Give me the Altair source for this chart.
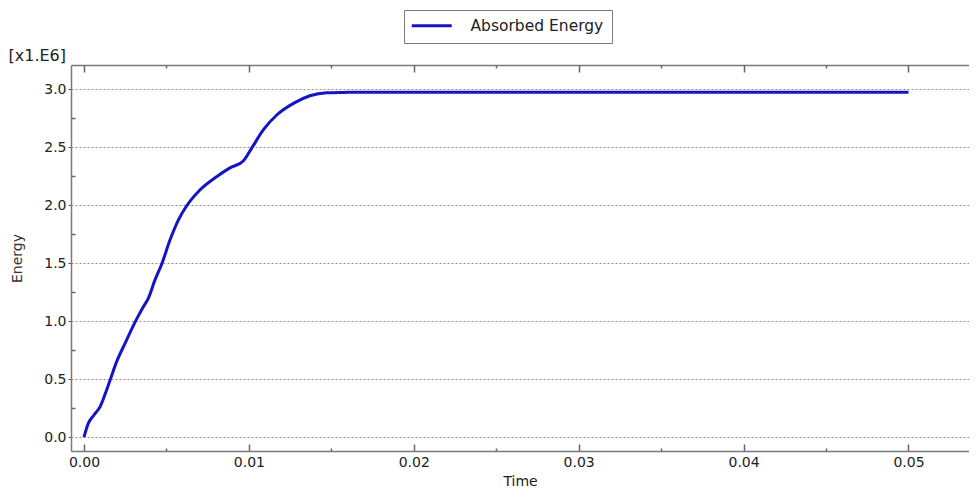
import altair as alt
import pandas as pd

# ---- data (time in s, energy in units of 1e6) ----
time = [0.0, 0.00026, 0.0006, 0.00097, 0.00128, 0.00158, 0.00198, 0.00249, 0.00309,
        0.0036, 0.0039, 0.0043, 0.00471, 0.00522, 0.00572, 0.00623, 0.00703, 0.00804,
        0.00885, 0.00966, 0.01017, 0.01087, 0.01169, 0.0127, 0.0137, 0.01472, 0.01572,
        0.0165, 0.02, 0.03, 0.04, 0.05]
energy = [0.0, 0.118, 0.19, 0.26, 0.37, 0.49, 0.65, 0.808, 0.989,
          1.123, 1.196, 1.353, 1.49, 1.70, 1.87, 1.994, 2.13, 2.244,
          2.32, 2.38, 2.49, 2.647, 2.776, 2.876, 2.942, 2.968, 2.971,
          2.972, 2.972, 2.972, 2.972, 2.972]
series_name = "Absorbed Energy"

x_major = [0.0, 0.01, 0.02, 0.03, 0.04, 0.05]
x_minor = [0.005, 0.015, 0.025, 0.035, 0.045]
y_major = [0.0, 0.5, 1.0, 1.5, 2.0, 2.5, 3.0]
y_minor = [0.25, 0.75, 1.25, 1.75, 2.25, 2.75]

df = pd.DataFrame({"Time": time, "Energy": energy, "Series": [series_name] * len(time)})

FONT = "DejaVu Sans"
BLUE = "#1414c4"
AXIS_GRAY = "#7a7a7a"
TEXT = "#222222"

XS = alt.Scale(domain=[-0.000788, 0.05367], nice=False, zero=False)
YS = alt.Scale(domain=[-0.12, 3.207], nice=False, zero=False)


def ghost(x_axis, y_axis):
    y = alt.Y("Energy:Q", scale=YS, axis=y_axis) if y_axis is not None else alt.Y("Energy:Q", scale=YS, axis=None)
    return alt.Chart(df).mark_line(opacity=0, strokeWidth=0).encode(
        x=alt.X("Time:Q", scale=XS, axis=x_axis), y=y)


main = alt.Chart(df).mark_line(strokeWidth=3, interpolate="monotone").encode(
    x=alt.X("Time:Q", scale=XS, axis=alt.Axis(
        orient="bottom", values=x_major, format=".2f", ticks=False, grid=False,
        domainColor=AXIS_GRAY, domainWidth=1.5, labelFontSize=14, labelColor=TEXT,
        labelPadding=4, labelFlush=False, title="Time", titleFontSize=14,
        titleFontWeight="normal", titleColor=TEXT, titlePadding=5)),
    y=alt.Y("Energy:Q", scale=YS, axis=alt.Axis(
        orient="left", values=y_major, format=".1f", tickSize=3, tickColor="#555555",
        domainColor=AXIS_GRAY, domainWidth=1.5, grid=True, gridColor="#8c8c8c",
        gridDash=[2, 2], gridWidth=1, labelFontSize=14, labelColor=TEXT, labelPadding=2,
        title="Energy", titleFontSize=14, titleFontWeight="normal", titleColor="#333333",
        titlePadding=19)),
    color=alt.Color("Series:N", scale=alt.Scale(range=[BLUE]), legend=alt.Legend(
        title=None, orient="none", legendX=333, legendY=-55, strokeColor=AXIS_GRAY,
        fillColor="white", padding=8, symbolType="M-1.6,0H6.4", symbolSize=100,
        symbolStrokeWidth=3, labelFontSize=15.5, labelColor=TEXT, labelOffset=43,
        labelFont=FONT)),
)

tick_kw = dict(domain=False, labels=False, grid=False, title=None, tickColor="#666666", tickWidth=1.5)

layers = [
    ghost(alt.Axis(orient="bottom", values=x_major, offset=-7, tickSize=7, **tick_kw),
          alt.Axis(orient="left", values=y_minor, offset=-4, tickSize=4, **tick_kw)),
    ghost(alt.Axis(orient="bottom", values=x_minor, offset=-3, tickSize=3, **tick_kw),
          alt.Axis(orient="left", values=y_major, ticks=False, labels=False, domain=False,
                   grid=False, title="[x1.E6]", titleAngle=0, titleX=-63, titleY=-10,
                   titleAlign="left", titleBaseline="middle", titleFontWeight="normal",
                   titleFontSize=16, titleColor=TEXT)),
    ghost(alt.Axis(orient="top", values=x_major, ticks=False, labels=False, grid=False,
                   domainColor=AXIS_GRAY, domainWidth=1.5, title=None), None),
    ghost(alt.Axis(orient="top", values=x_major, offset=-7, tickSize=7, **tick_kw), None),
    ghost(alt.Axis(orient="top", values=x_minor, offset=-3, tickSize=3, **tick_kw), None),
    main,
]

chart = alt.layer(*layers).resolve_axis(x="independent", y="independent").properties(
    width=898, height=386,
    padding={"left": 63, "top": 57, "right": 0, "bottom": 40},
    autosize=alt.AutoSizeParams(type="none"),
).configure(font=FONT).configure_view(strokeWidth=0)

chart.save("out.html", embed_options={"renderer": "svg", "actions": False})
